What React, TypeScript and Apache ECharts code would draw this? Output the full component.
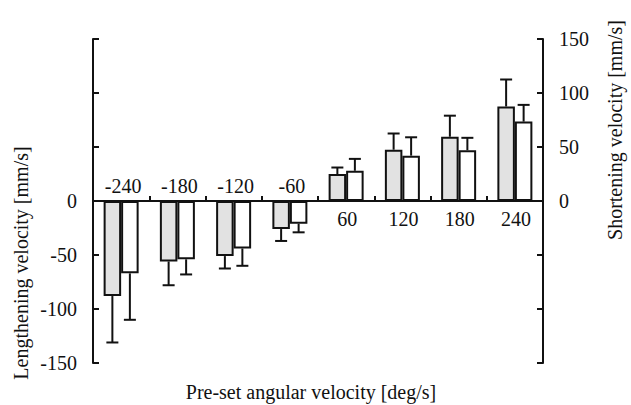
import React, { useEffect, useRef } from "react";
import * as echarts from "echarts";

const categories = ["-240", "-180", "-120", "-60", "60", "120", "180", "240"];
const greyValues = [-88, -56, -51, -26, 25, 47.5, 59.5, 87.5];
const greyErrors = [43, 22, 11.5, 11, 6, 15, 19.5, 25];
const whiteValues = [-67, -54, -44, -21, 28, 42, 47, 73.5];
const whiteErrors = [43, 14, 16, 8, 11, 17, 11.5, 15.5];
const leftTicks = [-150, -100, -50, 0];
const rightTicks = [0, 50, 100, 150];

const FONT = "'Liberation Serif', 'Times New Roman', serif";
const INK = "#111";
const BAR_W = 17.5;

export default function App() {
  const ref = useRef<HTMLDivElement>(null);
  useEffect(() => {
    if (!ref.current) return;
    const chart = echarts.init(ref.current, null, { renderer: "svg" });

    const errData: number[][] = [];
    greyValues.forEach((v, i) => errData.push([i, v, greyErrors[i], -1]));
    whiteValues.forEach((v, i) => errData.push([i, v, whiteErrors[i], 1]));

    const labelData = categories.map((c, i) => [i, 0, Number(c)]);

    const option: any = {
      animation: false,
      grid: { left: 93, right: 88, top: 39, bottom: 42 },
      xAxis: {
        type: "category",
        data: categories,
        axisLine: { onZero: true, lineStyle: { color: INK, width: 2 } },
        axisTick: { show: true, inside: true, length: 5, lineStyle: { color: INK, width: 2 } },
        axisLabel: { show: false },
        splitLine: { show: false },
      },
      yAxis: [
        {
          type: "value",
          min: -150,
          max: 150,
          interval: 50,
          position: "left",
          axisLine: { show: true, onZero: false, lineStyle: { color: INK, width: 2 } },
          axisTick: { show: true, inside: true, length: 6, lineStyle: { color: INK, width: 2 } },
          splitLine: { show: false },
          axisLabel: {
            margin: 16,
            color: INK,
            fontFamily: FONT,
            fontSize: 20,
            formatter: (v: number) => (leftTicks.includes(v) ? String(v) : ""),
          },
        },
        {
          type: "value",
          min: -150,
          max: 150,
          interval: 50,
          position: "right",
          axisLine: { show: true, onZero: false, lineStyle: { color: INK, width: 2 } },
          axisTick: { show: true, inside: true, length: 6, lineStyle: { color: INK, width: 2 } },
          splitLine: { show: false },
          axisLabel: {
            margin: 16,
            color: INK,
            fontFamily: FONT,
            fontSize: 20,
            formatter: (v: number) => (rightTicks.includes(v) ? String(v) : ""),
          },
        },
      ],
      series: [
        {
          type: "bar",
          name: "grey",
          data: greyValues,
          barWidth: BAR_W,
          barGap: "0%",
          itemStyle: { color: "#e2e2e2", borderColor: INK, borderWidth: 2 },
          z: 2,
        },
        {
          type: "bar",
          name: "white",
          data: whiteValues,
          barWidth: BAR_W,
          barGap: "0%",
          itemStyle: { color: "#ffffff", borderColor: INK, borderWidth: 2 },
          z: 2,
        },
        {
          type: "custom",
          name: "errors",
          data: errData,
          z: 3,
          renderItem: (_p: any, api: any) => {
            const i = api.value(0);
            const v = api.value(1);
            const e = api.value(2);
            const side = api.value(3);
            const sign = v >= 0 ? 1 : -1;
            const base = api.coord([i, v]);
            const tip = api.coord([i, v + sign * e]);
            const x = base[0] + (side * BAR_W) / 2;
            return {
              type: "group",
              children: [
                {
                  type: "line",
                  shape: { x1: x, y1: base[1], x2: x, y2: tip[1] },
                  style: { stroke: INK, lineWidth: 2 },
                },
                {
                  type: "line",
                  shape: { x1: x - 6, y1: tip[1], x2: x + 6, y2: tip[1] },
                  style: { stroke: INK, lineWidth: 2 },
                },
              ],
            };
          },
        },
        {
          type: "custom",
          name: "catLabels",
          data: labelData,
          z: 4,
          renderItem: (_p: any, api: any) => {
            const i = api.value(0);
            const deg = api.value(2);
            const p = api.coord([i, 0]);
            return {
              type: "text",
              x: p[0] + (deg < 0 ? 2 : 1),
              y: deg < 0 ? p[1] - 15 : p[1] + 18,
              style: {
                text: categories[i],
                fill: INK,
                font: `20px ${FONT}`,
                align: "center",
                verticalAlign: "middle",
                textAlign: "center",
                textVerticalAlign: "middle",
              },
            };
          },
        },
      ],
      graphic: [
        {
          type: "text",
          x: 311,
          y: 392,
          style: {
            text: "Pre-set angular velocity [deg/s]",
            fill: INK,
            font: `20px ${FONT}`,
            align: "center",
            verticalAlign: "middle",
            textAlign: "center",
            textVerticalAlign: "middle",
          },
        },
        {
          type: "text",
          x: 21,
          y: 263,
          rotation: Math.PI / 2,
          style: {
            text: "Lengthening velocity [mm/s]",
            fill: INK,
            font: `20px ${FONT}`,
            align: "center",
            verticalAlign: "middle",
            textAlign: "center",
            textVerticalAlign: "middle",
          },
        },
        {
          type: "text",
          x: 615,
          y: 130,
          rotation: Math.PI / 2,
          style: {
            text: "Shortening velocity [mm/s]",
            fill: INK,
            font: `20px ${FONT}`,
            align: "center",
            verticalAlign: "middle",
            textAlign: "center",
            textVerticalAlign: "middle",
          },
        },
      ],
    };
    chart.setOption(option);
    return () => chart.dispose();
  }, []);

  return (
    <div
      ref={ref}
      style={{ position: "fixed", left: 0, top: 0, width: 631, height: 405, background: "#fff" }}
    />
  );
}
